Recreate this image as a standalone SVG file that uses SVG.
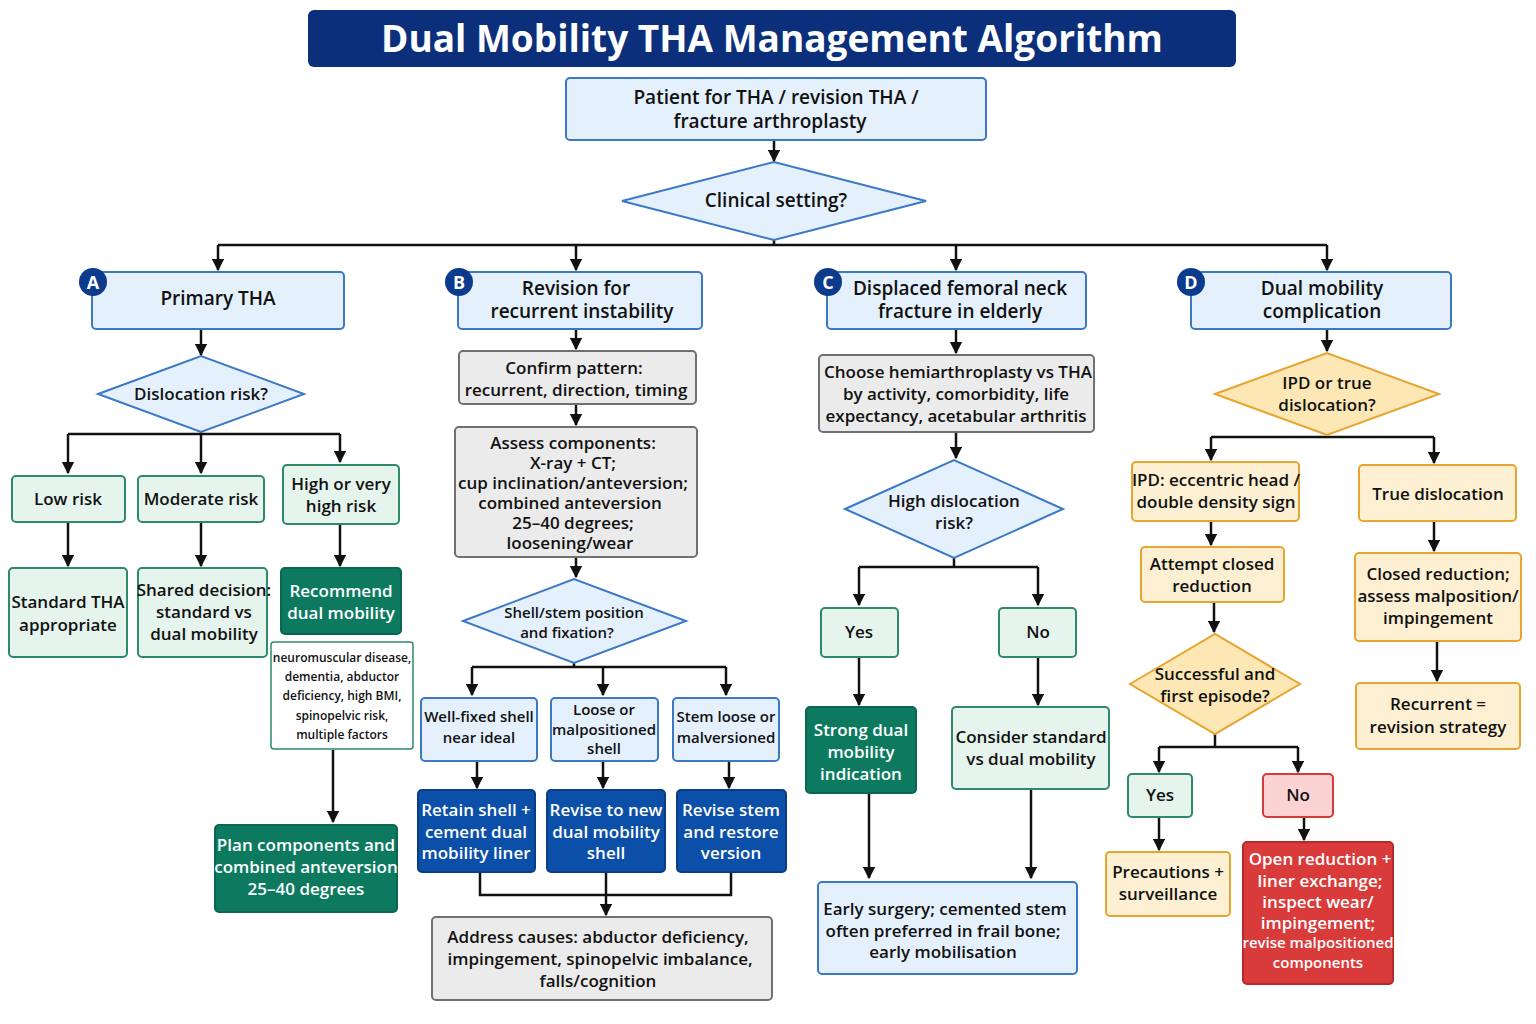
<svg xmlns="http://www.w3.org/2000/svg" width="1536" height="1024" viewBox="0 0 1536 1024">
<defs>
<marker id="ah" viewBox="0 0 10 10" refX="9" refY="5" markerWidth="5" markerHeight="5" orient="auto"><path d="M0,0L10,5L0,10z" fill="#111"/></marker>
<style>
text{font-family:"Open Sans","Liberation Sans",sans-serif;font-weight:600;text-anchor:middle;fill:#111}
.lb{fill:#e4f0fc;stroke:#3b78c6;stroke-width:2}
.gr{fill:#ebebeb;stroke:#707070;stroke-width:2}
.lg{fill:#e5f4ec;stroke:#2e8a68;stroke-width:2}
.dg{fill:#0d7a5f;stroke:#0a6650;stroke-width:2}
.db{fill:#0c4fa8;stroke:#083d88;stroke-width:2}
.yl{fill:#fdf0d2;stroke:#e6a530;stroke-width:2}
.lr{fill:#fbd3d3;stroke:#d63a3a;stroke-width:2}
.rd{fill:#d93b3b;stroke:#b82a2a;stroke-width:2}
.w{fill:#fff}
.c line,.c path{stroke:#111;stroke-width:2.5;fill:none}
.a{marker-end:url(#ah)}
.t17{font-size:17px}.t15{font-size:15px}.t19{font-size:19px}.t12{font-size:12px}
.badge{fill:#0c3a8c}
</style>
</defs>
<g id="title"><rect x="308" y="10" width="928" height="57" rx="6" fill="#0b2f7a"/><text x="772" y="52" style="font-size:37px;font-weight:700;fill:#fff">Dual Mobility THA Management Algorithm</text></g>

<g class="c" id="connectors">
<line class="a" x1="774" y1="140" x2="774" y2="161"/>
<path d="M218,245H1327"/><line x1="774" y1="240" x2="774" y2="245"/>
<line class="a" x1="218" y1="245" x2="218" y2="270"/><line class="a" x1="576" y1="245" x2="576" y2="270"/><line class="a" x1="956" y1="245" x2="956" y2="270"/><line class="a" x1="1327" y1="245" x2="1327" y2="270"/>
<line class="a" x1="201" y1="329" x2="201" y2="355"/>
<path d="M68,434H340"/><line x1="201" y1="432" x2="201" y2="434"/>
<line class="a" x1="68" y1="434" x2="68" y2="473"/><line class="a" x1="201" y1="434" x2="201" y2="473"/><line class="a" x1="340" y1="434" x2="340" y2="462"/>
<line class="a" x1="68" y1="522" x2="68" y2="566"/><line class="a" x1="201" y1="522" x2="201" y2="566"/><line class="a" x1="340" y1="524" x2="340" y2="566"/>
<line class="a" x1="333" y1="750" x2="333" y2="822"/>
<line class="a" x1="576" y1="329" x2="576" y2="349"/><line class="a" x1="576" y1="404" x2="576" y2="425"/><line class="a" x1="576" y1="557" x2="576" y2="577"/>
<path d="M472,667H726"/><line x1="574" y1="663" x2="574" y2="667"/>
<line class="a" x1="472" y1="667" x2="472" y2="695"/><line class="a" x1="603" y1="667" x2="603" y2="695"/><line class="a" x1="726" y1="667" x2="726" y2="695"/>
<line class="a" x1="477" y1="761" x2="477" y2="788"/><line class="a" x1="603" y1="761" x2="603" y2="788"/><line class="a" x1="729" y1="761" x2="729" y2="788"/>
<path d="M480,872V895H731V872"/><line class="a" x1="606" y1="872" x2="606" y2="915"/>
<line class="a" x1="956" y1="329" x2="956" y2="353"/><line class="a" x1="956" y1="432" x2="956" y2="458"/>
<path d="M859,567H1038"/><line x1="954" y1="558" x2="954" y2="567"/>
<line class="a" x1="859" y1="567" x2="859" y2="605"/><line class="a" x1="1038" y1="567" x2="1038" y2="605"/>
<line class="a" x1="859" y1="657" x2="859" y2="705"/><line class="a" x1="1038" y1="657" x2="1038" y2="705"/>
<line class="a" x1="869" y1="793" x2="869" y2="878"/><line class="a" x1="1031" y1="789" x2="1031" y2="878"/>
<line class="a" x1="1327" y1="329" x2="1327" y2="351"/>
<path d="M1211,437H1434"/><line class="a" x1="1211" y1="437" x2="1211" y2="460"/><line class="a" x1="1434" y1="437" x2="1434" y2="463"/>
<line class="a" x1="1211" y1="521" x2="1211" y2="545"/><line class="a" x1="1214" y1="602" x2="1214" y2="632"/>
<line class="a" x1="1434" y1="521" x2="1434" y2="551"/><line class="a" x1="1437" y1="641" x2="1437" y2="681"/>
<path d="M1159,747H1298"/><line x1="1215" y1="734" x2="1215" y2="747"/>
<line class="a" x1="1159" y1="747" x2="1159" y2="772"/><line class="a" x1="1298" y1="747" x2="1298" y2="772"/>
<line class="a" x1="1159" y1="817" x2="1159" y2="850"/><line class="a" x1="1304" y1="817" x2="1304" y2="840"/>
</g>

<g id="start"><rect class="lb" x="566" y="78" width="420" height="62" rx="4"/><text class="t19" x="776" y="104">Patient for THA / revision THA /</text><text class="t19" x="770" y="128">fracture arthroplasty</text></g>
<g id="setting"><polygon class="lb" points="622,201 774,162 926,201 774,240"/><text class="t19" x="776" y="207">Clinical setting?</text></g>

<g id="primary"><rect class="lb" x="92" y="272" width="252" height="57" rx="4"/><text class="t19" x="218" y="305">Primary THA</text><circle class="badge" cx="93" cy="282" r="14"/><text x="93" y="289" style="font-size:18px;font-weight:700;fill:#fff">A</text></g>
<g id="disrisk"><polygon class="lb" points="98,394 201,356 304,394 201,432"/><text class="t17" x="201" y="400">Dislocation risk?</text></g>
<g id="low"><rect class="lg" x="12" y="476" width="113" height="46" rx="4"/><text class="t17" x="68" y="505">Low risk</text></g>
<g id="mod"><rect class="lg" x="138" y="476" width="126" height="46" rx="4"/><text class="t17" x="201" y="505">Moderate risk</text></g>
<g id="high"><rect class="lg" x="283" y="465" width="116" height="59" rx="4"/><text class="t17" x="341" y="490">High or very</text><text class="t17" x="341" y="512">high risk</text></g>
<g id="std"><rect class="lg" x="9" y="568" width="118" height="89" rx="4"/><text class="t17" x="68" y="608">Standard THA</text><text class="t17" x="68" y="631">appropriate</text></g>
<g id="shared"><rect class="lg" x="138" y="568" width="129" height="89" rx="4"/><text class="t17" x="204" y="596">Shared decision:</text><text class="t17" x="204" y="618">standard vs</text><text class="t17" x="204" y="640">dual mobility</text></g>
<g id="recdm"><rect class="dg" x="281" y="568" width="120" height="66" rx="4"/><text class="t17" x="341" y="597" style="fill:#fff">Recommend</text><text class="t17" x="341" y="619" style="fill:#fff">dual mobility</text></g>
<g id="note"><rect class="w" x="271" y="642" width="142" height="107" rx="3" stroke="#2e8a68" stroke-width="1.5"/><text class="t12" x="342" y="662">neuromuscular disease,</text><text class="t12" x="342" y="681">dementia, abductor</text><text class="t12" x="342" y="700">deficiency, high BMI,</text><text class="t12" x="342" y="720">spinopelvic risk,</text><text class="t12" x="342" y="739">multiple factors</text></g>
<g id="plan"><rect class="dg" x="215" y="825" width="182" height="87" rx="4"/><text class="t17" x="306" y="851" style="fill:#fff">Plan components and</text><text class="t17" x="306" y="873" style="fill:#fff">combined anteversion</text><text class="t17" x="306" y="895" style="fill:#fff">25–40 degrees</text></g>

<g id="revision"><rect class="lb" x="458" y="272" width="244" height="57" rx="4"/><text class="t19" x="576" y="295">Revision for</text><text class="t19" x="582" y="318">recurrent instability</text><circle class="badge" cx="459" cy="282" r="14"/><text x="459" y="289" style="font-size:18px;font-weight:700;fill:#fff">B</text></g>
<g id="confirm"><rect class="gr" x="459" y="351" width="237" height="53" rx="4"/><text class="t17" x="574" y="374">Confirm pattern:</text><text class="t17" x="576" y="396">recurrent, direction, timing</text></g>
<g id="assess"><rect class="gr" x="455" y="427" width="242" height="130" rx="4"/><text class="t17" x="573" y="449">Assess components:</text><text class="t17" x="573" y="469">X-ray + CT;</text><text class="t17" x="573" y="489">cup inclination/anteversion;</text><text class="t17" x="570" y="509">combined anteversion</text><text class="t17" x="573" y="529">25–40 degrees;</text><text class="t17" x="570" y="549">loosening/wear</text></g>
<g id="shellq"><polygon class="lb" points="463,621 574,579 686,621 574,663"/><text class="t15" x="574" y="618">Shell/stem position</text><text class="t15" x="567" y="638">and fixation?</text></g>
<g id="wellfixed"><rect class="lb" x="421" y="698" width="116" height="63" rx="4"/><text class="t15" x="479" y="722">Well-fixed shell</text><text class="t15" x="479" y="743">near ideal</text></g>
<g id="loose"><rect class="lb" x="551" y="698" width="107" height="63" rx="4"/><text class="t15" x="604" y="715">Loose or</text><text class="t15" x="604" y="735">malpositioned</text><text class="t15" x="604" y="754">shell</text></g>
<g id="stemloose"><rect class="lb" x="673" y="698" width="106" height="63" rx="4"/><text class="t15" x="726" y="722">Stem loose or</text><text class="t15" x="726" y="743">malversioned</text></g>
<g id="retain"><rect class="db" x="418" y="790" width="117" height="82" rx="4"/><text class="t17" x="476" y="816" style="fill:#fff">Retain shell +</text><text class="t17" x="476" y="838" style="fill:#fff">cement dual</text><text class="t17" x="476" y="859" style="fill:#fff">mobility liner</text></g>
<g id="revnew"><rect class="db" x="547" y="790" width="118" height="82" rx="4"/><text class="t17" x="606" y="816" style="fill:#fff">Revise to new</text><text class="t17" x="606" y="838" style="fill:#fff">dual mobility</text><text class="t17" x="606" y="859" style="fill:#fff">shell</text></g>
<g id="revstem"><rect class="db" x="677" y="790" width="109" height="82" rx="4"/><text class="t17" x="731" y="816" style="fill:#fff">Revise stem</text><text class="t17" x="731" y="838" style="fill:#fff">and restore</text><text class="t17" x="731" y="859" style="fill:#fff">version</text></g>
<g id="address"><rect class="gr" x="432" y="917" width="340" height="83" rx="4"/><text class="t17" x="598" y="943">Address causes: abductor deficiency,</text><text class="t17" x="600" y="965">impingement, spinopelvic imbalance,</text><text class="t17" x="598" y="987">falls/cognition</text></g>

<g id="fracture"><rect class="lb" x="827" y="272" width="259" height="57" rx="4"/><text class="t19" x="960" y="295">Displaced femoral neck</text><text class="t19" x="960" y="318">fracture in elderly</text><circle class="badge" cx="828" cy="282" r="14"/><text x="828" y="289" style="font-size:18px;font-weight:700;fill:#fff">C</text></g>
<g id="choose"><rect class="gr" x="819" y="355" width="275" height="77" rx="4"/><text class="t17" x="958" y="378">Choose hemiarthroplasty vs THA</text><text class="t17" x="956" y="400">by activity, comorbidity, life</text><text class="t17" x="956" y="422">expectancy, acetabular arthritis</text></g>
<g id="highdis"><polygon class="lb" points="845,509 954,460 1063,509 954,558"/><text class="t17" x="954" y="507">High dislocation</text><text class="t17" x="954" y="529">risk?</text></g>
<g id="cyes"><rect class="lg" x="821" y="608" width="77" height="49" rx="4"/><text class="t17" x="859" y="638">Yes</text></g>
<g id="cno"><rect class="lg" x="999" y="608" width="77" height="49" rx="4"/><text class="t17" x="1038" y="638">No</text></g>
<g id="strong"><rect class="dg" x="806" y="707" width="110" height="86" rx="4"/><text class="t17" x="861" y="736" style="fill:#fff">Strong dual</text><text class="t17" x="861" y="758" style="fill:#fff">mobility</text><text class="t17" x="861" y="780" style="fill:#fff">indication</text></g>
<g id="consider"><rect class="lg" x="952" y="707" width="157" height="82" rx="4"/><text class="t17" x="1031" y="743">Consider standard</text><text class="t17" x="1031" y="765">vs dual mobility</text></g>
<g id="early"><rect class="lb" x="818" y="882" width="259" height="92" rx="4"/><text class="t17" x="945" y="915">Early surgery; cemented stem</text><text class="t17" x="943" y="937">often preferred in frail bone;</text><text class="t17" x="943" y="958">early mobilisation</text></g>

<g id="dmcomp"><rect class="lb" x="1191" y="272" width="260" height="57" rx="4"/><text class="t19" x="1322" y="295">Dual mobility</text><text class="t19" x="1322" y="318">complication</text><circle class="badge" cx="1191" cy="282" r="14"/><text x="1191" y="289" style="font-size:18px;font-weight:700;fill:#fff">D</text></g>
<g id="ipdq"><polygon class="yl" points="1215,394 1327,353 1439,394 1327,435" style="fill:#fde8b5"/><text class="t17" x="1327" y="389">IPD or true</text><text class="t17" x="1327" y="411">dislocation?</text></g>
<g id="ipd"><rect class="yl" x="1132" y="462" width="167" height="59" rx="4"/><text class="t17" x="1216" y="486">IPD: eccentric head /</text><text class="t17" x="1216" y="508">double density sign</text></g>
<g id="truedis"><rect class="yl" x="1359" y="465" width="157" height="56" rx="4"/><text class="t17" x="1438" y="500">True dislocation</text></g>
<g id="attempt"><rect class="yl" x="1141" y="547" width="143" height="55" rx="4"/><text class="t17" x="1212" y="570">Attempt closed</text><text class="t17" x="1212" y="592">reduction</text></g>
<g id="closedred"><rect class="yl" x="1355" y="553" width="166" height="88" rx="4"/><text class="t17" x="1438" y="580">Closed reduction;</text><text class="t17" x="1438" y="602">assess malposition/</text><text class="t17" x="1438" y="624">impingement</text></g>
<g id="succ"><polygon class="yl" points="1130,684 1215,634 1300,684 1215,734" style="fill:#fde8b5"/><text class="t17" x="1215" y="680">Successful and</text><text class="t17" x="1215" y="702">first episode?</text></g>
<g id="recurrent"><rect class="yl" x="1356" y="683" width="164" height="66" rx="4"/><text class="t17" x="1438" y="710">Recurrent =</text><text class="t17" x="1438" y="733">revision strategy</text></g>
<g id="dyes"><rect class="lg" x="1128" y="774" width="64" height="43" rx="4"/><text class="t17" x="1160" y="801">Yes</text></g>
<g id="dno"><rect class="lr" x="1263" y="774" width="70" height="43" rx="4"/><text class="t17" x="1298" y="801">No</text></g>
<g id="precautions"><rect class="yl" x="1106" y="852" width="124" height="64" rx="4"/><text class="t17" x="1168" y="878">Precautions +</text><text class="t17" x="1168" y="900">surveillance</text></g>
<g id="openred"><rect class="rd" x="1243" y="842" width="150" height="142" rx="4"/><text class="t17" x="1320" y="865" style="fill:#fff">Open reduction +</text><text class="t17" x="1320" y="887" style="fill:#fff">liner exchange;</text><text class="t17" x="1318" y="908" style="fill:#fff">inspect wear/</text><text class="t17" x="1318" y="929" style="fill:#fff">impingement;</text><text class="t15" x="1318" y="948" style="fill:#fff">revise malpositioned</text><text class="t15" x="1318" y="968" style="fill:#fff">components</text></g>
</svg>
